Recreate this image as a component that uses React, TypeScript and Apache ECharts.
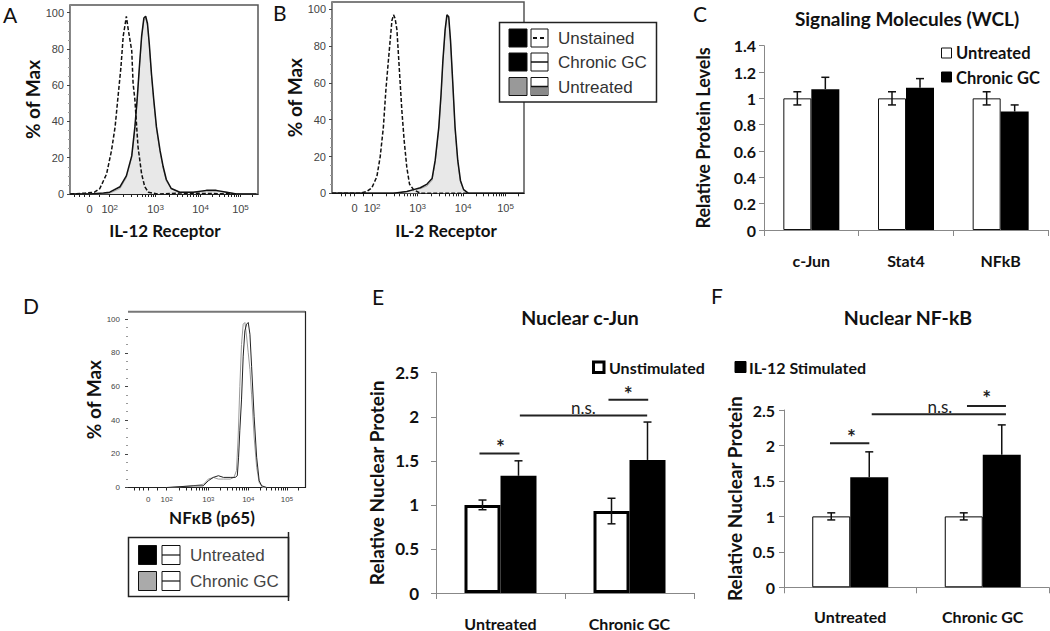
import { useEffect, useRef } from 'react';
import * as echarts from 'echarts';

const FONT = "Lato, 'Open Sans', sans-serif";
const ARIAL = "'Liberation Sans', Arial, sans-serif";

// ---------- Flow histograms (x in display decades, y in % of max) ----------
const pctTicks = [0, 20, 40, 60, 80, 100];
const logTickLabels = ['0', '10^2', '10^3', '10^4', '10^5'];
const aTickPos = [1.59, 2.04, 3.06, 4.06, 4.95];
const bTickPos = [1.69, 2.08, 3.09, 4.1, 5.04];
const dTickPos = [1.68, 2.12, 3.11, 4.06, 4.98];

const aUnstained = [[1.16, 0], [1.5, 0.5], [1.7, 1], [1.82, 3], [1.97, 11], [2.08, 24], [2.16, 37], [2.23, 55], [2.29, 70], [2.34, 87], [2.38, 93], [2.41, 98], [2.45, 91], [2.49, 85], [2.53, 79], [2.56, 61], [2.6, 52], [2.64, 37], [2.67, 26], [2.75, 11], [2.82, 4], [2.9, 1], [3.1, 0], [3.6, 0.5], [4.2, 0.3], [4.9, 0]];
const aChronic = [[1.16, 0], [1.6, 0], [1.9, 0.5], [2.04, 1], [2.27, 4], [2.41, 10], [2.53, 21], [2.6, 37], [2.65, 52], [2.7, 70], [2.75, 87], [2.8, 97], [2.84, 98], [2.88, 94], [2.92, 83], [2.97, 66], [3.02, 52], [3.08, 37], [3.16, 24], [3.23, 15], [3.3, 8], [3.41, 3], [3.6, 1], [3.9, 1], [4.19, 2], [4.41, 2], [4.64, 1], [4.86, 0], [5.3, 0]];
const aUntreated = [[1.16, 0], [2.0, 0], [2.27, 3], [2.41, 9], [2.53, 20], [2.6, 36], [2.65, 51], [2.7, 69], [2.75, 86], [2.8, 96], [2.84, 97], [2.88, 93], [2.92, 82], [2.97, 65], [3.02, 51], [3.08, 36], [3.16, 23], [3.23, 14], [3.3, 7], [3.41, 3], [3.6, 1], [3.9, 1], [4.19, 1.5], [4.41, 1.5], [4.64, 1], [4.86, 0], [5.3, 0]];

const bUnstained = [[1.19, 0], [1.815, 0], [1.963, 1], [2.074, 3], [2.185, 9], [2.26, 20], [2.33, 36], [2.385, 56], [2.43, 69], [2.48, 83], [2.52, 94], [2.556, 97], [2.59, 95], [2.63, 89], [2.68, 69], [2.74, 45], [2.79, 29], [2.85, 14], [2.91, 5], [3.0, 2], [3.15, 0], [4.2, 0]];
const bChronic = [[1.19, 0], [2.556, 0], [2.85, 1], [3.0, 2], [3.15, 3], [3.3, 5], [3.41, 8], [3.48, 18], [3.56, 36], [3.61, 54], [3.65, 72], [3.7, 89], [3.74, 97], [3.78, 96], [3.82, 83], [3.87, 60], [3.92, 36], [3.98, 18], [4.04, 7], [4.11, 2], [4.22, 0], [5.45, 0]];
const bUntreated = [[1.19, 0], [2.6, 0], [2.85, 1], [3.0, 2], [3.15, 2.5], [3.3, 4], [3.41, 7], [3.48, 17], [3.56, 35], [3.61, 53], [3.65, 71], [3.7, 88], [3.74, 96], [3.78, 95], [3.82, 82], [3.87, 59], [3.92, 35], [3.98, 17], [4.04, 6], [4.11, 2], [4.22, 0], [5.45, 0]];

const dUntreated = [[1.2, 0], [2.12, 0], [2.75, 1], [2.99, 1], [3.11, 4], [3.23, 6], [3.35, 7], [3.47, 6], [3.63, 6], [3.75, 6], [3.8, 7], [3.83, 18], [3.86, 34], [3.9, 52], [3.94, 78], [3.98, 93], [4.02, 97], [4.06, 98], [4.1, 91], [4.14, 72], [4.2, 42], [4.26, 18], [4.32, 4], [4.38, 1], [4.5, 0], [5.41, 0]];
const dChronic = [[1.2, 0], [2.2, 0], [2.75, 1], [3.0, 2], [3.11, 5], [3.23, 6], [3.35, 5], [3.47, 5], [3.63, 5], [3.72, 6], [3.78, 10], [3.82, 30], [3.86, 60], [3.9, 85], [3.94, 97], [3.98, 98], [4.02, 90], [4.06, 80], [4.1, 70], [4.14, 55], [4.2, 30], [4.26, 12], [4.32, 3], [4.4, 0], [5.41, 0]];

// ---------- C: Signaling molecules (WCL) ----------
const cCategories = ['c-Jun', 'Stat4', 'NFkB'];
const cUntreated = [1.0, 1.0, 1.0];
const cUntreatedErr = [0.05, 0.05, 0.05];
const cChronic = [1.07, 1.08, 0.9];
const cChronicErr = [0.09, 0.07, 0.05];

// ---------- E / F: Nuclear proteins ----------
const nucCategories = ['Untreated', 'Chronic GC'];
const eUnstim = [1.0, 0.93];
const eUnstimErr = [0.055, 0.145];
const eIL12 = [1.33, 1.51];
const eIL12Err = [0.17, 0.43];
const fUnstim = [1.0, 1.0];
const fUnstimErr = [0.05, 0.05];
const fIL12 = [1.55, 1.87];
const fIL12Err = [0.36, 0.42];

// significance brackets: [xStart, xEnd, y] in category units (0 = first category centre)
const eBrackets = [[-0.163, 0.147, 1.582], [0.15, 1.137, 2.013], [0.837, 1.145, 2.193]];
const eMarks: [number, number, string][] = [[0.0, 1.66, '*'], [0.643, 2.1, 'n.s.'], [0.99, 2.26, '*']];
const fBrackets = [[-0.153, 0.144, 2.03], [0.162, 1.175, 2.44], [0.881, 1.175, 2.556]];
const fMarks: [number, number, string][] = [[0.01, 2.12, '*'], [0.677, 2.55, 'n.s.'], [1.03, 2.68, '*']];

// minor (log) tick fractions within a decade, drawn on the flow-cytometry axes
const minorFractions = [0.301, 0.477, 0.602, 0.699, 0.778, 0.845, 0.903, 0.954];

function logTicksWithMinor(ticks: number[], max: number) {
  const out = [...ticks];
  for (let i = 1; i < ticks.length; i++) {
    const start = ticks[i];
    const step = i + 1 < ticks.length ? ticks[i + 1] - ticks[i] : ticks[i] - ticks[i - 1];
    minorFractions.forEach((f) => {
      const t = start + f * step;
      if (t < max) out.push(t);
    });
  }
  [0.25, 0.5, 0.75].forEach((f) => out.push(ticks[0] - f * (ticks[1] - ticks[0])));
  [0.5].forEach((f) => out.push(ticks[0] + f * (ticks[1] - ticks[0])));
  return out;
}

function logLabel(ticks: number[]) {
  return (v: number) => {
    const i = ticks.findIndex((t) => Math.abs(t - v) < 1e-6);
    const s = i >= 0 ? logTickLabels[i] : '';
    if (s.indexOf('^') >= 0) {
      const [b, e] = s.split('^');
      return '{b|' + b + '}{s|' + e + '}';
    }
    return '{b|' + s + '}';
  };
}

function histX(grid: number, min: number, max: number, ticks: number[], fs: number, margin: number) {
  return {
    type: 'value', gridIndex: grid, min, max,
    axisLine: { show: true, onZero: false, lineStyle: { color: '#222', width: 1.2 } },
    splitLine: { show: false },
    axisTick: { show: true, customValues: logTicksWithMinor(ticks, max), length: 3, lineStyle: { color: '#222' } },
    axisLabel: {
      customValues: ticks, margin, formatter: logLabel(ticks), color: '#444',
      rich: {
        b: { fontSize: fs, color: '#444', fontFamily: ARIAL },
        s: { fontSize: Math.round(fs * 0.72), color: '#444', fontFamily: ARIAL, verticalAlign: 'top' },
      },
    },
  };
}

function histY(grid: number, max: number, fs: number, margin: number, gap: number, line: boolean) {
  return {
    type: 'value', gridIndex: grid, min: 0, max,
    name: '% of Max', nameLocation: 'middle', nameGap: gap, nameRotate: 90,
    nameTextStyle: { fontFamily: FONT, fontWeight: 'bold', fontSize: 19, color: '#111' },
    axisLine: { show: line, onZero: false, lineStyle: { color: '#888' } },
    axisTick: { show: true, customValues: pctTicks, length: 3, lineStyle: { color: '#444' } },
    minorTick: { show: true, splitNumber: 4, length: 2, lineStyle: { color: '#999' } },
    axisLabel: { customValues: pctTicks, color: '#444', fontSize: fs, fontFamily: ARIAL, margin },
    splitLine: { show: false },
  };
}

function barY(grid: number, max: number, interval: number, name: string, gap: number, fs: number, nfs: number, margin: number) {
  return {
    type: 'value', gridIndex: grid, min: 0, max, interval,
    name, nameLocation: 'middle', nameGap: gap, nameRotate: 90,
    nameTextStyle: { fontFamily: FONT, fontWeight: 'bold', fontSize: nfs, color: '#111' },
    axisLine: { show: true, lineStyle: { color: '#888' } },
    axisTick: { show: true, length: 5, lineStyle: { color: '#888' } },
    axisLabel: { color: '#111', fontFamily: FONT, fontWeight: 'bold', fontSize: fs, margin },
    splitLine: { show: false },
  };
}

function barX(grid: number, data: string[], margin: number) {
  return {
    type: 'category', gridIndex: grid, data,
    axisLine: { show: true, lineStyle: { color: '#888' } },
    axisTick: { show: true, length: 6, lineStyle: { color: '#888' } },
    axisLabel: { color: '#111', fontFamily: FONT, fontWeight: 'bold', fontSize: 16, margin },
    splitLine: { show: false },
  };
}

function errSeries(axis: number, left: number[], leftErr: number[], right: number[], rightErr: number[], barW: number, capW: number) {
  const data = [
    ...left.map((v, i) => [i, v, leftErr[i], 0]),
    ...right.map((v, i) => [i, v, rightErr[i], 1]),
  ];
  return {
    type: 'custom', xAxisIndex: axis, yAxisIndex: axis, z: 5, data,
    encode: { x: 0, y: 1 },
    renderItem: (_p: any, api: any) => {
      const cat = api.value(0), v = api.value(1), e = api.value(2), side = api.value(3);
      const base = api.coord([cat, v]);
      const x = base[0] + (side === 0 ? -barW / 2 : barW / 2);
      const yTop = api.coord([cat, v + e])[1];
      const yBot = side === 0 ? api.coord([cat, v - e])[1] : base[1];
      const st = { stroke: '#111', lineWidth: 1.5 };
      const children: any[] = [
        { type: 'line', shape: { x1: x, y1: yTop, x2: x, y2: yBot }, style: st },
        { type: 'line', shape: { x1: x - capW / 2, y1: yTop, x2: x + capW / 2, y2: yTop }, style: st },
      ];
      if (side === 0) children.push({ type: 'line', shape: { x1: x - capW / 2, y1: yBot, x2: x + capW / 2, y2: yBot }, style: st });
      return { type: 'group', children };
    },
  };
}

function bracketSeries(axis: number, brackets: number[][]) {
  return {
    type: 'custom', xAxisIndex: axis, yAxisIndex: axis, z: 6, clip: false,
    data: brackets.map((b) => [0, b[2]]),
    encode: { x: 0, y: 1 },
    renderItem: (p: any, api: any) => {
      const b = brackets[p.dataIndex];
      const c = api.coord([0, b[2]]);
      const bw = api.size([1, 0])[0];
      return { type: 'line', shape: { x1: c[0] + b[0] * bw, y1: c[1], x2: c[0] + b[1] * bw, y2: c[1] }, style: { stroke: '#222', lineWidth: 2 } };
    },
  };
}

function markSeries(axis: number, marks: [number, number, string][]) {
  return {
    type: 'custom', xAxisIndex: axis, yAxisIndex: axis, z: 6, clip: false,
    data: marks.map((m) => [0, m[1]]),
    encode: { x: 0, y: 1 },
    renderItem: (p: any, api: any) => {
      const m = marks[p.dataIndex];
      const c = api.coord([0, m[1]]);
      const bw = api.size([1, 0])[0];
      const star = m[2] === '*';
      return {
        type: 'text', x: c[0] + m[0] * bw, y: c[1],
        style: {
          text: m[2], fill: '#222', fontFamily: FONT, fontSize: star ? 21 : 17, fontWeight: star ? 'bold' : 'normal',
          textAlign: 'center', textVerticalAlign: 'middle',
        },
      };
    },
  };
}

function txt(text: string, x: number, y: number, opts: any = {}) {
  return {
    type: 'text', x, y,
    style: {
      text, fill: opts.fill || '#111', fontFamily: opts.family || FONT, fontSize: opts.size || 16,
      fontWeight: opts.weight || 'normal', textAlign: opts.align || 'left', textVerticalAlign: 'middle',
    },
  };
}
function rect(x: number, y: number, w: number, h: number, fill: string, stroke = '#111', lw = 1) {
  return { type: 'rect', shape: { x, y, width: w, height: h }, style: { fill, stroke, lineWidth: lw } };
}
function hline(x1: number, x2: number, y: number, stroke = '#111', lw = 1.5, dash?: number[]) {
  return { type: 'line', shape: { x1, y1: y, x2, y2: y }, style: { stroke, lineWidth: lw, lineDash: dash } };
}

function buildOption() {
  const lineBase = { type: 'line', showSymbol: false, symbol: 'none', smooth: false };
  return {
    animation: false,
    backgroundColor: '#fff',
    grid: [
      { left: 70, top: 5, width: 188, height: 189, show: true, borderColor: '#555', borderWidth: 1.5 },
      { left: 332, top: 2, width: 192, height: 191.3, show: true, borderColor: '#555', borderWidth: 1.5 },
      { left: 764, top: 45.7, width: 284, height: 184.3 },
      { left: 128, top: 311.7, width: 177, height: 175.8 },
      { left: 436, top: 372.7, width: 258, height: 222.3 },
      { left: 784, top: 410, width: 265, height: 177.3 },
    ],
    xAxis: [
      histX(0, 1.156, 5.34, aTickPos, 11, 9),
      histX(1, 1.19, 5.45, bTickPos, 11, 9),
      barX(2, cCategories, 22),
      histX(3, 1.2, 5.41, dTickPos, 8, 8),
      barX(4, nucCategories, 22),
      barX(5, nucCategories, 21),
    ],
    yAxis: [
      histY(0, 104.2, 11, 6, 28.5, true),
      histY(1, 104.0, 11, 6, 27, true),
      barY(2, 1.4, 0.2, 'Relative Protein Levels', 52, 16, 18, 8),
      histY(3, 104.4, 8, 8, 25, false),
      barY(4, 2.5, 0.5, 'Relative Nuclear Protein', 50, 17, 19, 17),
      barY(5, 2.5, 0.5, 'Relative Nuclear Protein', 40, 16, 19, 9),
      {
        type: 'value', gridIndex: 3, position: 'right', min: 0, max: 1,
        axisLine: { show: true, onZero: false, lineStyle: { color: '#222', width: 1.2 } },
        axisTick: { show: false }, axisLabel: { show: false }, splitLine: { show: false },
      },
    ],
    series: [
      // A
      { ...lineBase, name: 'Untreated', xAxisIndex: 0, yAxisIndex: 0, data: aUntreated, lineStyle: { color: '#aaa', width: 1 }, areaStyle: { color: '#e8e8e8', opacity: 1 } },
      { ...lineBase, name: 'Chronic GC', xAxisIndex: 0, yAxisIndex: 0, data: aChronic, lineStyle: { color: '#111', width: 1.5 } },
      { ...lineBase, name: 'Unstained', xAxisIndex: 0, yAxisIndex: 0, data: aUnstained, lineStyle: { color: '#111', width: 1.5, type: [4, 2] } },
      // B
      { ...lineBase, name: 'Untreated', xAxisIndex: 1, yAxisIndex: 1, data: bUntreated, lineStyle: { color: '#aaa', width: 1 }, areaStyle: { color: '#e8e8e8', opacity: 1 } },
      { ...lineBase, name: 'Chronic GC', xAxisIndex: 1, yAxisIndex: 1, data: bChronic, lineStyle: { color: '#111', width: 1.5 } },
      { ...lineBase, name: 'Unstained', xAxisIndex: 1, yAxisIndex: 1, data: bUnstained, lineStyle: { color: '#111', width: 1.5, type: [4, 2] } },
      // C
      { type: 'bar', name: 'Untreated', xAxisIndex: 2, yAxisIndex: 2, data: cUntreated, barWidth: 28, barGap: '0%', itemStyle: { color: '#fff', borderColor: '#111', borderWidth: 1 } },
      { type: 'bar', name: 'Chronic GC', xAxisIndex: 2, yAxisIndex: 2, data: cChronic, barWidth: 28, barGap: '0%', itemStyle: { color: '#000' } },
      errSeries(2, cUntreated, cUntreatedErr, cChronic, cChronicErr, 28, 8),
      // D
      { ...lineBase, name: 'Chronic GC', xAxisIndex: 3, yAxisIndex: 3, data: dChronic, lineStyle: { color: '#999', width: 1 } },
      { ...lineBase, name: 'Untreated', xAxisIndex: 3, yAxisIndex: 3, data: dUntreated, lineStyle: { color: '#222', width: 1 } },
      // E
      { type: 'bar', name: 'Unstimulated', xAxisIndex: 4, yAxisIndex: 4, data: eUnstim, barWidth: 36, barGap: '0%', itemStyle: { color: '#fff', borderColor: '#000', borderWidth: 3 } },
      { type: 'bar', name: 'IL-12 Stimulated', xAxisIndex: 4, yAxisIndex: 4, data: eIL12, barWidth: 36, barGap: '0%', itemStyle: { color: '#000' } },
      errSeries(4, eUnstim, eUnstimErr, eIL12, eIL12Err, 36, 8),
      bracketSeries(4, eBrackets),
      markSeries(4, eMarks),
      // F
      { type: 'bar', name: 'Unstimulated', xAxisIndex: 5, yAxisIndex: 5, data: fUnstim, barWidth: 38, barGap: '0%', itemStyle: { color: '#fff', borderColor: '#000', borderWidth: 1 } },
      { type: 'bar', name: 'IL-12 Stimulated', xAxisIndex: 5, yAxisIndex: 5, data: fIL12, barWidth: 38, barGap: '0%', itemStyle: { color: '#000' } },
      errSeries(5, fUnstim, fUnstimErr, fIL12, fIL12Err, 38, 8),
      bracketSeries(5, fBrackets),
      markSeries(5, fMarks),
    ],
    graphic: [
      // panel letters
      txt('A', 3, 14, { size: 21 }),
      txt('B', 273, 12, { size: 21 }),
      txt('C', 693, 13, { size: 21 }),
      txt('D', 23, 305, { size: 21 }),
      txt('E', 372, 296, { size: 21 }),
      txt('F', 711, 295, { size: 21 }),
      // D frame top edge
      { type: 'line', shape: { x1: 128, y1: 311.7, x2: 305, y2: 311.7 }, style: { stroke: '#777', lineWidth: 2 } },
      // titles
      txt('Signaling Molecules (WCL)', 907, 18, { size: 19, weight: 'bold', align: 'center' }),
      txt('Nuclear c-Jun', 580, 317, { size: 19.5, weight: 'bold', align: 'center' }),
      txt('Nuclear NF-kB', 908, 317, { size: 19.5, weight: 'bold', align: 'center' }),
      // x-axis titles of histograms
      txt('IL-12 Receptor', 165, 230, { size: 17, weight: 'bold', align: 'center' }),
      txt('IL-2 Receptor', 446, 230, { size: 17, weight: 'bold', align: 'center' }),
      txt('NFκB (p65)', 212, 517, { size: 17, weight: 'bold', align: 'center' }),
      // A/B legend
      rect(499.5, 22.5, 157, 79.5, '#fff', '#222', 1.5),
      rect(509, 29, 18, 18, '#000'),
      rect(531, 29, 17, 18, '#fff'),
      hline(533, 546, 38, '#111', 2, [4, 3]),
      rect(509, 53, 18, 18, '#000'),
      rect(531, 53, 17, 18, '#fff'),
      hline(531, 548, 62, '#111', 1.5),
      rect(509, 77.5, 18, 18, '#999'),
      rect(531, 77.5, 17, 18, '#fff'),
      rect(531.5, 86.5, 16, 8.5, '#8a8a8a', '#8a8a8a', 0.5),
      hline(531, 548, 86.5, '#111', 1.5),
      txt('Unstained', 558, 38.5, { size: 17, family: ARIAL, fill: '#333' }),
      txt('Chronic GC', 558, 62.5, { size: 17, family: ARIAL, fill: '#333' }),
      txt('Untreated', 558, 87, { size: 17, family: ARIAL, fill: '#333' }),
      // C legend
      rect(941.5, 48, 10, 10, '#fff', '#111', 1),
      rect(941.5, 72, 10, 10, '#000', '#000', 1),
      txt('Untreated', 956, 53, { size: 16.5, weight: 'bold' }),
      txt('Chronic GC', 956, 77.5, { size: 16.5, weight: 'bold' }),
      // D legend
      rect(128.5, 537.5, 160, 59, '#fff', '#222', 1.5),
      { type: 'line', shape: { x1: 288.5, y1: 532, x2: 288.5, y2: 601 }, style: { stroke: '#222', lineWidth: 1.5 } },
      rect(138.5, 545.5, 18, 19, '#000'),
      rect(162, 545.5, 18, 19, '#fff'),
      hline(162, 180, 555, '#111', 1.2),
      rect(138.5, 571.5, 18, 19, '#aaa'),
      rect(162, 571.5, 18, 19, '#fff'),
      hline(162, 180, 581, '#111', 1.2),
      txt('Untreated', 190, 555.5, { size: 17, family: ARIAL, fill: '#444' }),
      txt('Chronic GC', 190, 581, { size: 17, family: ARIAL, fill: '#444' }),
      // E/F legend
      rect(593.5, 362, 10.5, 10.5, '#fff', '#000', 3),
      txt('Unstimulated', 609, 367, { size: 16, weight: 'bold' }),
      rect(735, 361.5, 11, 11, '#000', '#000', 1),
      txt('IL-12 Stimulated', 749, 367, { size: 16, weight: 'bold' }),
    ],
  };
}

export default function App() {
  const ref = useRef<HTMLDivElement>(null);
  useEffect(() => {
    const chart = echarts.init(ref.current!, null, { renderer: 'svg' });
    chart.setOption(buildOption() as any);
    return () => chart.dispose();
  }, []);
  return (
    <div
      ref={ref}
      style={{ position: 'fixed', left: 0, top: 0, width: 1050, height: 631, background: '#fff' }}
    />
  );
}
